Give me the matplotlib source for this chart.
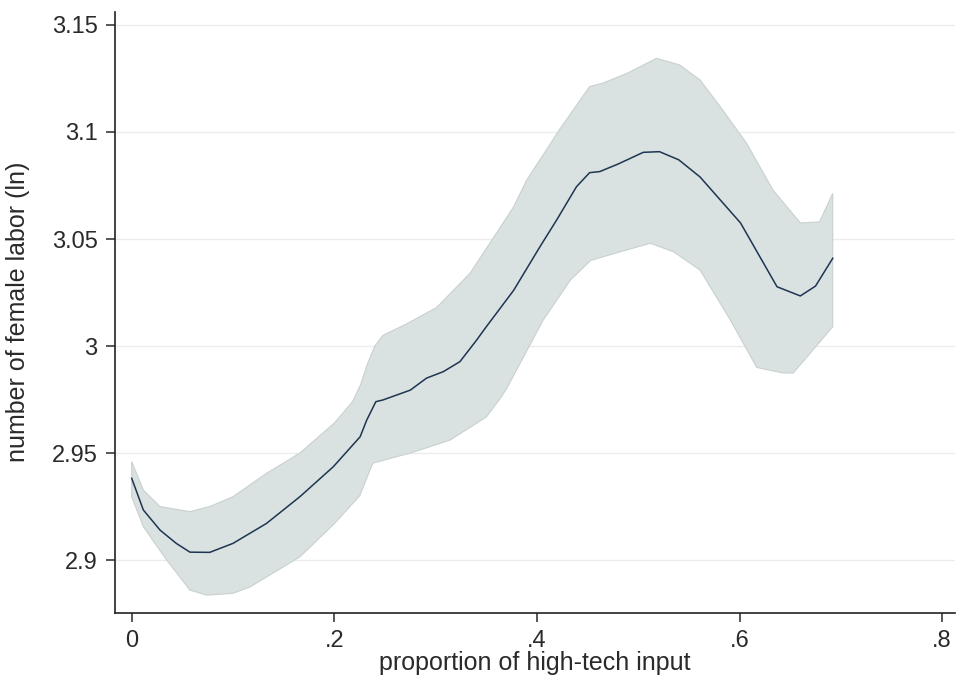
import matplotlib
matplotlib.use("Agg")
import matplotlib.pyplot as plt

# fitted line
fit_x = [0, 0.0115, 0.028, 0.044, 0.0575, 0.077, 0.1, 0.133, 0.166, 0.199,
         0.2255, 0.232, 0.241, 0.248, 0.275, 0.291, 0.3075, 0.324, 0.3405, 0.35,
         0.377, 0.403, 0.4195, 0.439, 0.452, 0.462, 0.48, 0.505, 0.521, 0.54,
         0.561, 0.601, 0.637, 0.66, 0.675, 0.692]
fit_y = [2.9382, 2.9234, 2.914, 2.9078, 2.9037, 2.9036, 2.9078, 2.9171, 2.9296, 2.9436,
         2.9576, 2.9654, 2.974, 2.9748, 2.9794, 2.985, 2.988, 2.9927, 3.0028, 3.009,
         3.026, 3.0464, 3.0589, 3.0744, 3.081, 3.0815, 3.085, 3.0905, 3.0908, 3.087,
         3.079, 3.0575, 3.0277, 3.0234, 3.028, 3.041]

# confidence band
up_x = [0, 0.0115, 0.028, 0.0575, 0.077, 0.1, 0.133, 0.166, 0.183, 0.2,
        0.218, 0.226, 0.233, 0.24, 0.248, 0.27, 0.301, 0.334, 0.36, 0.377, 0.39,
        0.423, 0.452, 0.465, 0.489, 0.518, 0.541, 0.561, 0.581, 0.607, 0.633,
        0.66, 0.679, 0.692]
up_y = [2.946, 2.9327, 2.925, 2.9226, 2.925, 2.9296, 2.9405, 2.950, 2.957, 2.964,
        2.974, 2.982, 2.992, 3.000, 3.005, 3.010, 3.018, 3.034, 3.0527, 3.065, 3.0776,
        3.1016, 3.1212, 3.1228, 3.1274, 3.1344, 3.1313, 3.1243, 3.1118, 3.0947, 3.0729,
        3.0575, 3.058, 3.0713]

lo_x = [0, 0.0115, 0.0345, 0.0575, 0.074, 0.1, 0.117, 0.166, 0.2, 0.225,
        0.238, 0.275, 0.314, 0.35, 0.363, 0.37, 0.406, 0.433, 0.453, 0.482,
        0.512, 0.535, 0.561, 0.591, 0.617, 0.643, 0.653, 0.692]
lo_y = [2.9296, 2.9156, 2.9, 2.886, 2.8836, 2.8845, 2.8875, 2.9015, 2.917, 2.930,
        2.9453, 2.950, 2.956, 2.9668, 2.975, 2.980, 3.012, 3.0308, 3.040, 3.044,
        3.048, 3.044, 3.0355, 3.0121, 2.990, 2.9874, 2.9874, 3.009]

xticks = [0, 0.2, 0.4, 0.6, 0.8]
xtick_labels = ["0", ".2", ".4", ".6", ".8"]
yticks = [2.9, 2.95, 3.0, 3.05, 3.1, 3.15]
ytick_labels = ["2.9", "2.95", "3", "3.05", "3.1", "3.15"]

plt.rcParams["font.family"] = ["Liberation Sans", "DejaVu Sans"]

fig = plt.figure(figsize=(9.63, 6.84), dpi=100)
ax = fig.add_axes([0.1194, 0.1042, 0.8723, 0.8787])

band_x = up_x + lo_x[::-1]
band_y = up_y + lo_y[::-1]
ax.fill(band_x, band_y, facecolor="#dae1e1", edgecolor="#c9d0d0", linewidth=0.8, zorder=2)
ax.plot(fit_x, fit_y, color="#1d3550", linewidth=1.1, zorder=3)

ax.set_xlim(-0.0165, 0.8127)
ax.set_ylim(2.8754, 3.1562)
ax.set_xticks(xticks)
ax.set_xticklabels(xtick_labels)
ax.set_yticks(yticks)
ax.set_yticklabels(ytick_labels)

ax.grid(axis="y", color="#ececec", linewidth=1.0, zorder=0)
ax.set_axisbelow(True)

for s in ["top", "right"]:
    ax.spines[s].set_visible(False)
for s in ["left", "bottom"]:
    ax.spines[s].set_linewidth(1.2)
    ax.spines[s].set_color("#222222")

ax.tick_params(axis="both", direction="out", length=6.5, width=1.1, colors="#2a2a2a",
               labelsize=17, pad=6)

ax.set_xlabel("proportion of high-tech input", fontsize=18, color="#2a2a2a")
ax.set_ylabel("number of female labor (ln)", fontsize=18, color="#2a2a2a")
ax.xaxis.set_label_coords(0.5, -0.063)
ax.yaxis.set_label_coords(-0.101, 0.5)

fig.savefig("out.png", dpi=100)
